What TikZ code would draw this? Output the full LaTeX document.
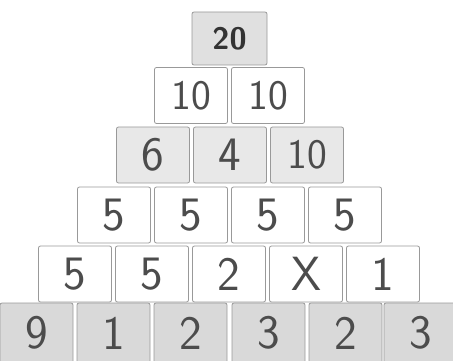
\documentclass[tikz,border=0pt]{standalone}
\usepackage{fontspec}
\begin{document}
\begin{tikzpicture}[x=1pt,y=-1pt,
  brick/.style={draw=black!40, line width=0.8pt, rounded corners=2pt,
    minimum width=73pt, minimum height=56pt, inner sep=0pt,
    font=\sffamily\fontsize{48}{48}\selectfont, text=black!70},
  grayb/.style={brick, fill=black!15},
  lightb/.style={brick, fill=black!9},
  whiteb/.style={brick, fill=white},
  tens/.style={font=\sffamily\fontsize{42}{42}\selectfont}]
\useasboundingbox (0,0) rectangle (453,361);
\clip (0,0) rectangle (453,361);
% top
\node[grayb, fill=black!12, minimum width=75pt, minimum height=53pt,
  font=\sffamily\bfseries\fontsize{31}{31}\selectfont, text=black!80] (t) at (229.5,38.5) {20};
% row 1
\node[whiteb, tens] (a1) at (191,95.5) {10};
\node[whiteb, tens] (a2) at (268,95.5) {10};
% row 2
\node[lightb] (b1) at (153,155) {6};
\node[lightb] (b2) at (230,155) {4};
\node[lightb, tens] (b3) at (307,155) {10};
% row 3
\node[whiteb] (c1) at (114,215) {5};
\node[whiteb] (c2) at (191,215) {5};
\node[whiteb] (c3) at (268,215) {5};
\node[whiteb] (c4) at (345,215) {5};
% row 4
\node[whiteb] (d1) at (75,274) {5};
\node[whiteb] (d2) at (152,274) {5};
\node[whiteb] (d3) at (229,274) {2};
\node[whiteb] (d4) at (306,274) {X};
\node[whiteb] (d5) at (383,274) {1};
% bottom row
\node[grayb, minimum height=60pt] (e1) at (36.5,333) {9};
\node[grayb, minimum height=60pt] (e2) at (113.5,333) {1};
\node[grayb, minimum height=60pt] (e3) at (190.5,333) {2};
\node[grayb, minimum height=60pt] (e4) at (268.5,333) {3};
\node[grayb, minimum height=60pt] (e5) at (345.5,333) {2};
\node[grayb, minimum height=60pt] (e6) at (420.5,333) {3};
\end{tikzpicture}
\end{document}
